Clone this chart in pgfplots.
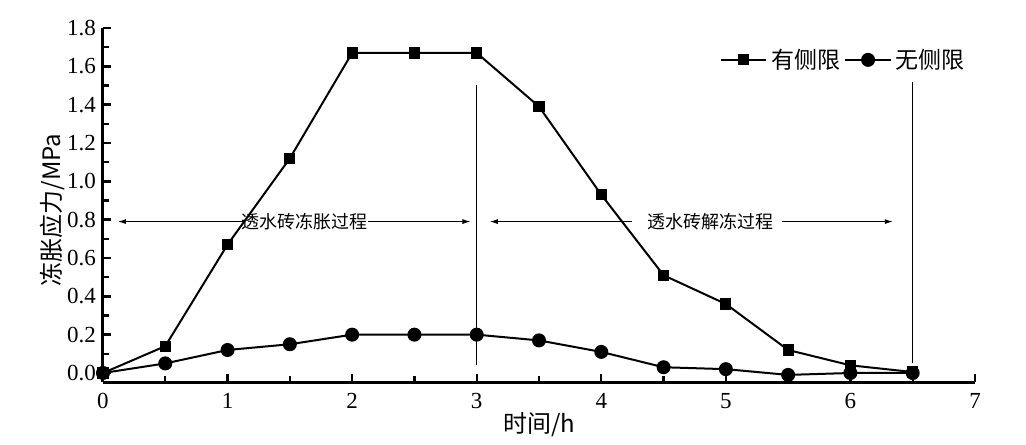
\documentclass[border=0pt]{standalone}
\usepackage{pgfplots}
\pgfplotsset{compat=1.18}
\usepackage{fontspec}
\setmainfont{Liberation Serif}
\newfontfamily\cjk{Noto Sans CJK SC}
\usetikzlibrary{arrows.meta}
\begin{document}
\begin{tikzpicture}
\useasboundingbox (-51.5pt,-31pt) rectangle (461.5pt,191pt);
\begin{axis}[
  scale only axis,
  width=436pt, height=177pt,
  xmin=0, xmax=7, ymin=-0.047, ymax=1.8,
  axis x line=bottom, axis y line=left,
  axis line style={-, line width=1.5pt},
  xtick={0,1,...,7}, minor x tick num=1,
  ytick={0,0.2,...,1.8}, minor y tick num=1,
  tick align=inside,
  major tick length=4pt, minor tick length=3pt,
  tick style={line width=1.2pt, black},
  /pgf/number format/assume math mode=true,
  yticklabel style={/pgf/number format/fixed, /pgf/number format/fixed zerofill, /pgf/number format/precision=1, font=\fontsize{11.5}{13}\selectfont},
  xticklabel style={font=\fontsize{11.5}{13}\selectfont, yshift=-2pt},
  xlabel={\cjk 时间/h},
  ylabel={\cjk 冻胀应力/MPa},
  xlabel style={at={(axis description cs:0.5,-0.12)}, anchor=center, font=\fontsize{12}{14}\selectfont},
  ylabel style={at={(axis description cs:-0.058,0.486)}, anchor=center, font=\fontsize{12}{14}\selectfont},
  legend columns=2,
  legend style={draw=none, fill=none, at={(axis description cs:0.70,0.91)}, anchor=west, font=\cjk\fontsize{11.5}{13}\selectfont, /tikz/every even column/.append style={column sep=0pt}},
  legend image code/.code={\draw[mark repeat=2,mark phase=2] plot coordinates {(0cm,0cm) (0.4cm,0cm) (0.8cm,0cm)};},
]
\addplot[black, line width=1pt, mark=square*, mark size=2.3pt] coordinates {
(0,0) (0.5,0.14) (1,0.67) (1.5,1.12) (2,1.67) (2.5,1.67) (3,1.67) (3.5,1.39) (4,0.93) (4.5,0.51) (5,0.36) (5.5,0.12) (6,0.04) (6.5,0.005)};
\addlegendentry{有侧限}
\addplot[black, line width=1pt, mark=*, mark size=3pt] coordinates {
(0,0) (0.5,0.05) (1,0.12) (1.5,0.15) (2,0.2) (2.5,0.2) (3,0.2) (3.5,0.17) (4,0.11) (4.5,0.03) (5,0.02) (5.5,-0.01) (6,0.0) (6.5,0.0)};
\addlegendentry{无侧限}
\draw[line width=0.7pt] (axis cs:3,0.04) -- (axis cs:3,1.50);
\draw[line width=0.7pt] (axis cs:6.5,0.05) -- (axis cs:6.5,1.52);
\draw[line width=0.5pt, {Latex[length=4pt,width=2.5pt]}-] (axis cs:0.12,0.79) -- (axis cs:1.12,0.79);
\draw[line width=0.5pt, -{Latex[length=4pt,width=2.5pt]}] (axis cs:2.13,0.79) -- (axis cs:2.95,0.79);
\node[font=\cjk\fontsize{9}{10}\selectfont] at (axis cs:1.62,0.79) {透水砖冻胀过程};
\draw[line width=0.5pt, {Latex[length=4pt,width=2.5pt]}-] (axis cs:3.105,0.79) -- (axis cs:4.25,0.79);
\draw[line width=0.5pt, -{Latex[length=4pt,width=2.5pt]}] (axis cs:5.45,0.79) -- (axis cs:6.34,0.79);
\node[font=\cjk\fontsize{9}{10}\selectfont] at (axis cs:4.88,0.79) {透水砖解冻过程};
\end{axis}
\end{tikzpicture}
\end{document}
